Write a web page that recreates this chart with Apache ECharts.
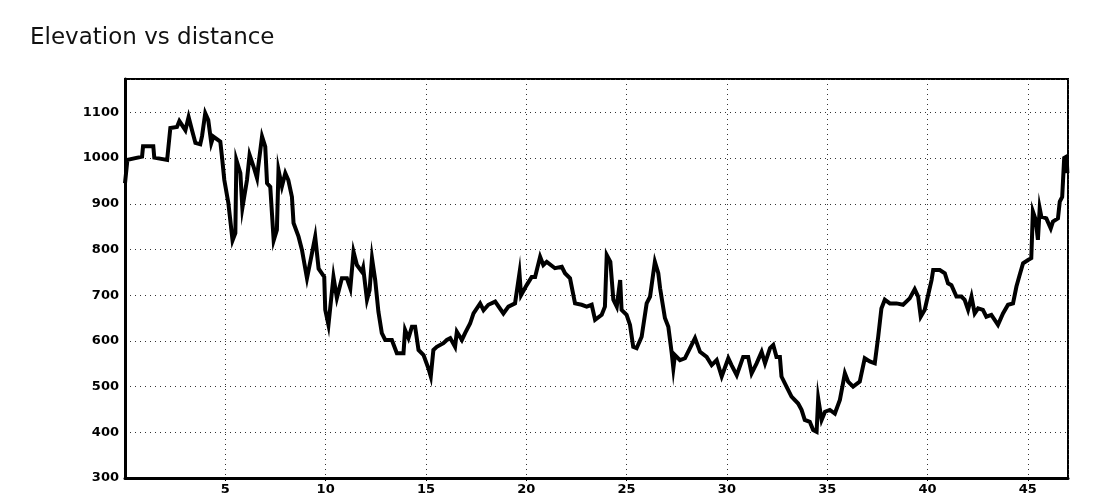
<!DOCTYPE html>
<html>
<head>
<meta charset="utf-8">
<script src="https://cdn.jsdelivr.net/npm/echarts@6/dist/echarts.min.js"></script>
<style>
html,body{margin:0;padding:0;background:#fff;}
#chart{width:1100px;height:500px;}
</style>
</head>
<body>
<div id="chart"></div>
<script>
var titleText = "Elevation vs distance";
var xTicks = [5, 10, 15, 20, 25, 30, 35, 40, 45];
var yTicks = [300, 400, 500, 600, 700, 800, 900, 1000, 1100];

var distance = [
0, 0.12, 0.85, 0.90, 1.41, 1.46, 2.10, 2.26, 2.59, 2.71, 3.01, 3.17, 3.34, 3.51, 3.75, 3.84, 4.00, 4.15, 4.30, 4.40,
4.75, 4.84, 4.95, 5.15, 5.36, 5.50, 5.55, 5.75, 5.85, 6.08, 6.21, 6.41, 6.58, 6.64, 6.83, 6.99, 7.08, 7.24, 7.41, 7.57,
7.65, 7.82, 7.99, 8.14, 8.32, 8.40, 8.65, 8.82, 9.07, 9.32, 9.48, 9.65, 9.93, 9.98, 10.14, 10.23, 10.39, 10.56, 10.81, 11.06,
11.23, 11.39, 11.56, 11.81, 11.87, 12.06, 12.19, 12.31, 12.47, 12.63, 12.80, 12.97, 13.30, 13.55, 13.88, 13.96, 14.13, 14.30, 14.46, 14.63,
14.88, 15.12, 15.24, 15.37, 15.54, 15.87, 16.04, 16.21, 16.45, 16.54, 16.79, 16.95, 17.20, 17.37, 17.70, 17.87, 18.11, 18.45, 18.86, 19.11,
19.44, 19.66, 19.74, 20.02, 20.27, 20.44, 20.69, 20.85, 21.02, 21.43, 21.77, 21.93, 22.18, 22.43, 22.76, 23.01, 23.26, 23.43, 23.76, 23.92,
24.01, 24.19, 24.34, 24.51, 24.68, 24.75, 25.00, 25.17, 25.33, 25.50, 25.75, 26.00, 26.17, 26.33, 26.41, 26.58, 26.67, 26.91, 27.08, 27.25,
27.33, 27.41, 27.66, 27.91, 28.16, 28.41, 28.66, 28.74, 28.99, 29.24, 29.49, 29.74, 30.07, 30.23, 30.49, 30.81, 31.06, 31.23, 31.48, 31.73,
31.90, 32.15, 32.31, 32.47, 32.64, 32.72, 32.97, 33.22, 33.55, 33.72, 33.88, 34.13, 34.30, 34.47, 34.55, 34.72, 34.89, 35.13, 35.38, 35.63,
35.88, 36.04, 36.29, 36.62, 36.87, 37.12, 37.37, 37.54, 37.70, 37.87, 38.12, 38.45, 38.78, 39.11, 39.36, 39.53, 39.66, 39.86, 40.20, 40.28,
40.61, 40.86, 41.02, 41.19, 41.44, 41.69, 41.85, 42.02, 42.19, 42.35, 42.52, 42.76, 42.93, 43.18, 43.51, 43.76, 44.01, 44.26, 44.43, 44.59,
44.76, 45.01, 45.17, 45.25, 45.39, 45.50, 45.59, 45.67, 45.92, 46.14, 46.25, 46.50, 46.59, 46.71, 46.81, 46.93, 46.97
];
var elevation = [
945, 996, 1003, 1026, 1026, 1001, 996, 1066, 1068, 1081, 1061, 1090, 1061, 1033, 1030, 1048, 1098, 1083, 1033, 1047,
1036, 1000, 952, 902, 820, 836, 996, 967, 891, 952, 1007, 981, 956, 981, 1047, 1025, 945, 937, 820, 843,
974, 938, 967, 952, 915, 858, 828, 799, 737, 792, 828, 758, 740, 668, 635, 635, 740, 694, 737, 737,
715, 795, 766, 751, 760, 690, 711, 781, 733, 664, 617, 602, 602, 573, 573, 624, 606, 631, 631, 580,
569, 540, 522, 580, 587, 595, 602, 606, 587, 620, 602, 617, 638, 660, 682, 667, 679, 686, 660, 675,
682, 748, 700, 722, 740, 740, 784, 766, 773, 759, 762, 748, 737, 682, 679, 675, 679, 646, 657, 675,
788, 773, 690, 675, 733, 668, 657, 635, 587, 584, 609, 682, 697, 748, 773, 748, 715, 650, 631, 573,
540, 569, 558, 562, 584, 606, 576, 580, 565, 547, 558, 522, 562, 547, 525, 565, 565, 529, 551, 576,
551, 584, 591, 565, 565, 522, 500, 478, 463, 449, 427, 423, 405, 401, 474, 427, 445, 449, 441, 471,
529, 511, 500, 511, 562, 555, 551, 609, 671, 690, 682, 682, 679, 693, 713, 697, 653, 668, 733, 755,
755, 748, 726, 722, 697, 697, 690, 668, 697, 660, 671, 668, 653, 657, 635, 660, 679, 682, 719, 744,
770, 777, 781, 883, 865, 821, 890, 872, 868, 846, 861, 868, 905, 915, 1000, 1003, 967
];

var points = distance.map(function (d, i) { return [d, elevation[i]]; });

var chart = echarts.init(document.getElementById('chart'), null, {renderer: 'canvas'});
var labelFont = {fontFamily: 'DejaVu Sans', fontSize: 13, fontWeight: 'bold', color: '#000'};

chart.setOption({
  animation: false,
  backgroundColor: '#fff',
  title: {
    text: titleText,
    left: 25, top: 22,
    textStyle: {fontFamily: 'DejaVu Sans', fontSize: 23, fontWeight: 'normal', color: '#111'}
  },
  grid: {
    left: 125, right: 32, top: 79, bottom: 22,
    show: true, borderColor: '#000', borderWidth: 2, backgroundColor: '#fff'
  },
  xAxis: {
    type: 'value', min: 0, max: 47, interval: 5,
    axisLine: {show: true, lineStyle: {color: '#000', width: 3}},
    axisTick: {show: true, length: 3, lineStyle: {color: '#000'}},
    axisLabel: Object.assign({}, labelFont, {
      margin: 5,
      showMinLabel: false, showMaxLabel: false,
      formatter: function (v) { return xTicks.indexOf(v) >= 0 ? String(v) : ''; }
    }),
    splitLine: {show: true, lineStyle: {color: '#333', type: [1, 4], width: 1}}
  },
  yAxis: {
    type: 'value', min: 300, max: 1173, interval: 100,
    axisLine: {show: true, lineStyle: {color: '#000', width: 3}},
    axisTick: {show: false},
    axisLabel: Object.assign({}, labelFont, {
      margin: 6,
      showMaxLabel: false,
      formatter: function (v) { return yTicks.indexOf(v) >= 0 ? String(v) : ''; }
    }),
    splitLine: {show: true, lineStyle: {color: '#333', type: [1, 4], width: 1}}
  },
  series: [{
    type: 'line',
    data: points,
    showSymbol: false,
    symbol: 'none',
    lineStyle: {color: '#000', width: 4, join: 'miter'},
    clip: true
  }]
});
</script>
</body>
</html>
